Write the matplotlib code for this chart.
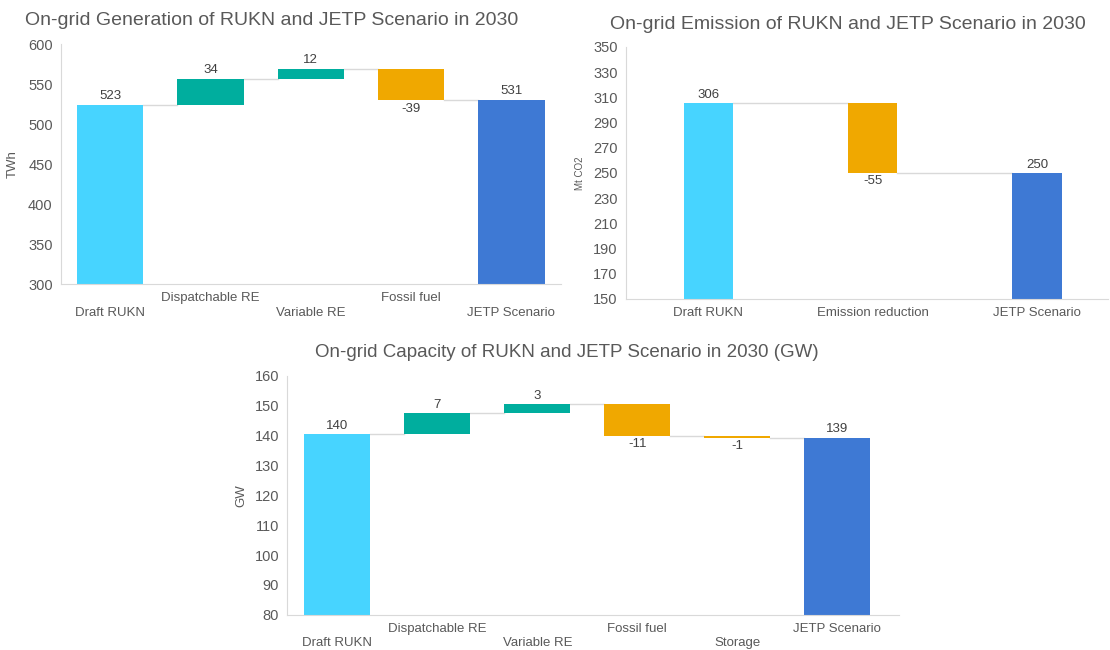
import matplotlib.pyplot as plt
import numpy as np

plt.rcParams['font.family'] = ['Liberation Sans', 'DejaVu Sans']

# Colours used by the source chart
c_start = '#47D4FF'
c_up = '#00AE9E'
c_down = '#F0A800'
c_total = '#3E79D4'
grey_txt = '#595959'
grey_line = '#D9D9D9'

# Generation (TWh)
gen_cats = ['Draft RUKN', 'Dispatchable RE', 'Variable RE', 'Fossil fuel', 'JETP Scenario']
gen_start = 523.4
gen_steps = [33.6, 12.4, -38.6]

# Emission (Mt CO2)
emi_cats = ['Draft RUKN', 'Emission reduction', 'JETP Scenario']
emi_start = 305.6
emi_steps = [-55.4]

# Capacity (GW)
cap_cats = ['Draft RUKN', 'Dispatchable RE', 'Variable RE', 'Fossil fuel', 'Storage', 'JETP Scenario']
cap_start = 140.4
cap_steps = [7.2, 2.9, -10.6, -0.6]


def waterfall(ax, cats, start, steps, width, yticks, ylabel, stagger, ylab_size=9.5):
    levels = np.concatenate([[start], start + np.cumsum(steps)])
    end = levels[-1]
    base = yticks[0]
    x = np.arange(len(cats))
    off = 1.5 * (yticks[1] - yticks[0]) / 20

    # first and last bars stand on the axis floor
    ax.bar(x[0], start - base, width, bottom=base, color=c_start, zorder=2)
    ax.text(x[0], start + off, f'{start:.0f}',
            ha='center', va='bottom', color='#404040', fontsize=9.5)
    ax.bar(x[-1], end - base, width, bottom=base, color=c_total, zorder=2)
    ax.text(x[-1], end + off, f'{end:.0f}',
            ha='center', va='bottom', color='#404040', fontsize=9.5)

    for i, d in enumerate(steps):
        lo, hi = sorted([levels[i], levels[i + 1]])
        col = c_up if d > 0 else c_down
        ax.bar(x[i + 1], hi - lo, width, bottom=lo, color=col, zorder=2)
        if d > 0:
            ax.text(x[i + 1], hi + off, f'{d:.0f}', ha='center', va='bottom',
                    color='#404040', fontsize=9.5)
        else:
            ax.text(x[i + 1], lo - off, f'{d:.0f}', ha='center', va='top',
                    color='#404040', fontsize=9.5)

    # connector lines between bars
    for i in range(len(levels)):
        ax.plot([x[i] + width / 2, x[i + 1] - width / 2], [levels[i], levels[i]],
                color=grey_line, lw=1, zorder=1)

    ax.set_ylim(yticks[0], yticks[-1])
    ax.set_yticks(yticks)
    ax.set_xticks(x)
    if stagger:
        labels = [('\n' + c) if i % 2 == 0 else c for i, c in enumerate(cats)]
    else:
        labels = cats
    ax.set_xticklabels(labels, va='top', linespacing=1.25)
    ax.tick_params(length=0, colors=grey_txt)
    ax.tick_params(axis='x', pad=6, labelsize=9.5)
    ax.tick_params(axis='y', pad=6, labelsize=10.5)
    for s in ['top', 'right']:
        ax.spines[s].set_visible(False)
    for s in ['left', 'bottom']:
        ax.spines[s].set_color(grey_line)
        ax.spines[s].set_zorder(3)
    ax.set_ylabel(ylabel, color=grey_txt, fontsize=ylab_size)


fig = plt.figure(figsize=(11.1, 6.5), dpi=100)

ax1 = fig.add_axes([0.055, 0.563, 0.450, 0.369])
waterfall(ax1, gen_cats, gen_start, gen_steps, 0.66, np.arange(300, 601, 50), 'TWh', True)
ax1.set_xlim(-0.49, 4.49)
ax1.yaxis.set_label_coords(-0.085, 0.5)

ax2 = fig.add_axes([0.564, 0.540, 0.434, 0.388])
waterfall(ax2, emi_cats, emi_start, emi_steps, 0.30, np.arange(150, 351, 20), 'Mt CO2', False, ylab_size=7)
ax2.set_xlim(-0.5, 2.43)
ax2.yaxis.set_label_coords(-0.085, 0.5)

ax3 = fig.add_axes([0.259, 0.054, 0.551, 0.368])
waterfall(ax3, cap_cats, cap_start, cap_steps, 0.66, np.arange(80, 161, 10), 'GW', True)
ax3.set_xlim(-0.5, 5.62)
ax3.yaxis.set_label_coords(-0.065, 0.5)

fig.text(0.245, 0.969, 'On-grid Generation of RUKN and JETP Scenario in 2030',
         ha='center', va='center', fontsize=14, color=grey_txt)
fig.text(0.764, 0.963, 'On-grid Emission of RUKN and JETP Scenario in 2030',
         ha='center', va='center', fontsize=14, color=grey_txt)
fig.text(0.511, 0.458, 'On-grid Capacity of RUKN and JETP Scenario in 2030 (GW)',
         ha='center', va='center', fontsize=13.5, color=grey_txt)

fig.savefig('out.png', dpi=100, facecolor='white')
